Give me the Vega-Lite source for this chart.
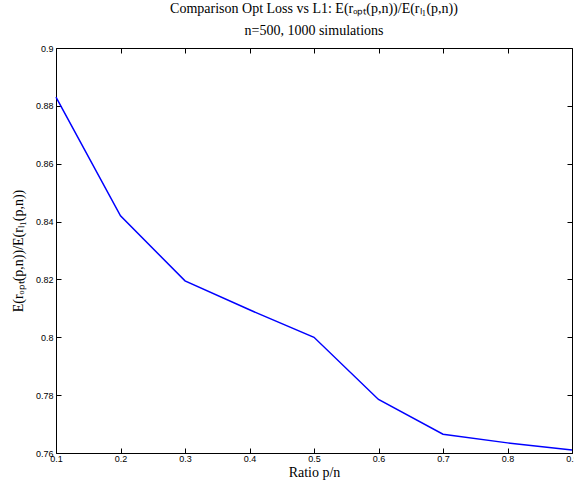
{
  "$schema": "https://vega.github.io/schema/vega-lite/v6.json",
  "width": 516,
  "height": 405,
  "autosize": "none",
  "padding": {"left": 56, "top": 48, "right": 2, "bottom": 31},
  "background": "white",
  "title": {
    "text": ["Comparison Opt Loss vs L1: E(rₒₚₜ(p,n))/E(rₗ₁(p,n))", "n=500, 1000 simulations"],
    "font": "serif",
    "fontSize": 14,
    "fontWeight": "normal",
    "color": "black",
    "anchor": "middle",
    "offset": 6,
    "lineHeight": 22
  },
  "config": {
    "view": {"stroke": "black", "strokeWidth": 1},
    "axis": {
      "grid": false,
      "domain": false,
      "tickColor": "black",
      "tickSize": -5,
      "tickWidth": 1,
      "labelFont": "Liberation Sans",
      "labelFontSize": 9,
      "labelColor": "black",
      "titleFont": "serif",
      "titleFontSize": 14,
      "titleFontWeight": "normal",
      "titleColor": "black"
    }
  },
  "data": {
    "values": [
      {"ratio": 0.1, "value": 0.883},
      {"ratio": 0.2, "value": 0.842},
      {"ratio": 0.3, "value": 0.8195},
      {"ratio": 0.4, "value": 0.8095},
      {"ratio": 0.5, "value": 0.8},
      {"ratio": 0.6, "value": 0.7785},
      {"ratio": 0.7, "value": 0.7665},
      {"ratio": 0.8, "value": 0.7635},
      {"ratio": 0.9, "value": 0.761}
    ]
  },
  "layer": [
    {
      "mark": {"type": "line", "color": "#0000ff", "strokeWidth": 1.5},
      "encoding": {
        "x": {
          "field": "ratio", "type": "quantitative",
          "scale": {"domain": [0.1, 0.9], "nice": false, "zero": false},
          "axis": {"values": [0.1, 0.2, 0.3, 0.4, 0.5, 0.6, 0.7, 0.8, 0.9], "format": ".1f", "title": "Ratio p/n", "labelPadding": 6, "titlePadding": 2, "labelFlush": false}
        },
        "y": {
          "field": "value", "type": "quantitative",
          "scale": {"domain": [0.76, 0.9], "nice": false, "zero": false},
          "axis": {"values": [0.76, 0.78, 0.8, 0.82, 0.84, 0.86, 0.88, 0.9], "format": "~g", "title": "E(rₒₚₜ(p,n))/E(rₗ₁(p,n))", "labelPadding": 8, "titlePadding": 10, "labelFlush": false}
        }
      }
    },
    {
      "mark": {"type": "line", "opacity": 0},
      "encoding": {
        "x": {
          "field": "ratio", "type": "quantitative",
          "scale": {"domain": [0.1, 0.9], "nice": false, "zero": false},
          "axis": {"orient": "top", "values": [0.1, 0.2, 0.3, 0.4, 0.5, 0.6, 0.7, 0.8, 0.9], "labels": false, "title": null}
        },
        "y": {
          "field": "value", "type": "quantitative",
          "scale": {"domain": [0.76, 0.9], "nice": false, "zero": false},
          "axis": {"orient": "right", "values": [0.76, 0.78, 0.8, 0.82, 0.84, 0.86, 0.88, 0.9], "labels": false, "title": null}
        }
      }
    }
  ],
  "resolve": {"axis": {"x": "independent", "y": "independent"}}
}
